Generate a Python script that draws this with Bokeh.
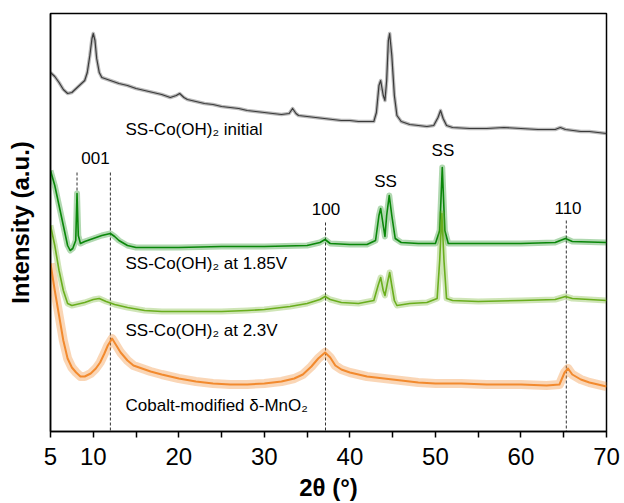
from bokeh.plotting import figure
from bokeh.models import Range1d, FixedTicker, Label
from bokeh.embed import file_html
from bokeh.resources import INLINE

# ---------------- data (2θ in degrees, intensity in arbitrary units) ----------------
x_initial = [5.0, 5.5, 6.0, 6.5, 7.0, 7.5, 8.0, 8.5, 9.0, 9.3, 9.6, 9.85, 10.0, 10.2, 10.4, 10.7, 11.0,
             12, 13, 14, 15, 16, 17, 18, 19, 19.7, 20.1, 20.6, 21, 22, 23, 24, 25, 26, 27, 28, 29, 30,
             31, 32, 32.9, 33.3, 33.7, 34, 35, 36, 37, 38, 39, 40, 41, 42, 42.8, 43.1, 43.4, 43.6,
             43.9, 44.1, 44.3, 44.5, 44.65, 44.9, 45.2, 45.5, 46, 47, 48, 49, 49.8, 50.3, 50.6, 50.9,
             51.3, 52, 54, 56, 58, 60, 62, 64, 64.6, 65.2, 67, 68, 70]
y_initial = [359, 355, 349, 342, 338, 339, 343, 347, 351, 359, 376, 393, 398, 391, 373, 359, 354,
             351, 348, 346, 343, 341, 339, 337, 334, 336, 338, 334, 332, 330, 328, 327, 325, 324, 323,
             321, 320, 319, 318, 317, 318, 323, 318, 316, 315, 314, 313, 312, 311, 311, 310, 310, 310,
             319, 346, 351, 336, 331, 351, 391, 398, 376, 336, 316, 310, 307, 306, 305, 306, 314, 321,
             313, 306, 304, 303, 303, 304, 303, 302, 302, 304, 302, 300, 300, 298]

x_185 = [5.0, 5.5, 6.0, 6.5, 7.0, 7.3, 7.6, 7.95, 8.1, 8.25, 8.5, 9.0, 10, 11, 12, 12.5, 13, 14, 15,
         17, 20, 25, 30, 35, 36.5, 37.1, 37.7, 40, 42, 43.0, 43.4, 43.6, 43.9, 44.1, 44.3, 44.6,
         44.9, 45.3, 46, 48, 50, 50.5, 50.8, 51.1, 51.5, 55, 60, 64, 65.2, 66, 70]
y_185 = [261, 246, 226, 206, 186, 181, 183, 191, 238, 196, 188, 190, 193, 196, 198, 195, 191, 186,
         184, 184, 184, 185, 185, 186, 189, 192, 188, 187, 187, 191, 216, 223, 206, 195, 216, 236,
         216, 193, 189, 188, 188, 201, 264, 201, 188, 188, 188, 189, 193, 190, 189]

x_23 = [5.0, 5.5, 6.0, 6.5, 7.0, 7.5, 8.0, 9.0, 10.0, 10.7, 11.5, 12.5, 14, 16, 18, 20, 22, 25, 28,
        30, 33, 35, 36.5, 37.1, 37.7, 39, 41, 42.8, 43.3, 43.6, 43.9, 44.1, 44.4, 44.65, 44.9, 45.2,
        45.5, 47, 49, 50.2, 50.5, 50.75, 51.0, 51.3, 52, 55, 60, 64, 65.2, 66, 70]
y_23 = [206, 186, 161, 141, 128, 126, 127, 129, 132, 133, 130, 127, 124, 121, 120, 120, 120, 120,
        121, 122, 125, 128, 132, 135, 132, 129, 128, 131, 146, 154, 141, 136, 149, 159, 146, 131,
        126, 128, 129, 133, 171, 218, 171, 133, 131, 130, 131, 132, 135, 133, 131]

x_mno2 = [5.0, 5.5, 6.0, 6.5, 7.0, 7.5, 8.0, 8.5, 9.0, 9.7, 10.3, 10.8, 11.3, 11.7, 12.2, 12.7, 13.2,
          14, 14.7, 15.7, 16.7, 18, 20, 22, 24, 26, 28, 30, 32, 33.5, 34.5, 35.5, 36.3, 37.1, 37.7,
          38.3, 39, 40, 42, 44, 46, 48, 50, 53, 56, 60, 63, 64.5, 65.1, 65.5, 66.0, 67, 68, 70]
y_mno2 = [168, 141, 116, 91, 73, 64, 59, 55, 55, 58, 63, 69, 78, 86, 93, 86, 79, 71, 66, 63, 60,
          57, 53, 50, 48, 47, 47, 48, 50, 53, 57, 65, 73, 79, 74, 66, 62, 59, 55, 53, 51, 49, 48,
          48, 47, 47, 46, 47, 59, 63, 57, 52, 49, 45]

# reflection markers (2θ, top, bottom of dashed guide)
ref_x = [8.1, 12.0, 37.15, 65.3]
ref_top = [259, 259, 209, 211]
ref_bottom = [241, 0, 0, 0]

tick_values = [5, 10, 15, 20, 25, 30, 35, 40, 45, 50, 55, 60, 65, 70]
tick_labels = ["5", "10", "", "20", "", "30", "", "40", "", "50", "", "60", "", "70"]

series_names = ["SS-Co(OH)\u2082 initial", "SS-Co(OH)\u2082 at 1.85V",
                "SS-Co(OH)\u2082 at 2.3V", "Cobalt-modified \u03b4-MnO\u2082"]
peak_names = ["001", "100", "SS", "SS", "110"]

# ---------------- figure ----------------
FONT = "Liberation Sans"
p = figure(width=624, height=503, output_backend="svg", toolbar_location=None,
           x_range=Range1d(5, 70), y_range=Range1d(0, 418),
           min_border_left=50, min_border_right=18, min_border_top=13, min_border_bottom=72)
p.grid.visible = False
p.outline_line_color = "black"
p.outline_line_width = 1.5
p.background_fill_color = "white"
p.border_fill_color = "white"

xa = p.xaxis[0]
xa.ticker = FixedTicker(ticks=tick_values, minor_ticks=[])
xa.major_label_overrides = {t: l for t, l in zip(tick_values, tick_labels)}
xa.major_tick_out = 6
xa.major_tick_in = 0
xa.major_tick_line_width = 1.5
xa.axis_line_width = 1.5
xa.major_label_text_font = FONT
xa.major_label_text_font_size = "24px"
xa.major_label_text_color = "black"
xa.major_label_standoff = 10
xa.axis_label = "2\u03b8 (\u00b0)"
xa.axis_label_text_font = FONT
xa.axis_label_text_font_size = "24px"
xa.axis_label_text_font_style = "bold"
xa.axis_label_text_color = "black"
xa.axis_label_standoff = 6

ya = p.yaxis[0]
ya.ticker = FixedTicker(ticks=[], minor_ticks=[])
ya.major_tick_out = 0
ya.major_tick_in = 0
ya.major_label_text_font_size = "0px"
ya.axis_line_width = 1.5
ya.axis_label = "Intensity (a.u.)"
ya.axis_label_text_font = FONT
ya.axis_label_text_font_size = "24px"
ya.axis_label_text_font_style = "bold"
ya.axis_label_text_color = "black"
ya.axis_label_standoff = 17

# dashed guides
p.segment(x0=ref_x, y0=ref_top, x1=ref_x, y1=ref_bottom, line_color="#333333",
          line_width=1, line_dash="3 2")

# traces: soft halo (noise band) + core line
traces = [
    (x_initial, y_initial, "#3a3a3a", 3.5, 1.2, 0.35),
    (x_185, y_185, "#0a870a", 6, 1.6, 0.32),
    (x_23, y_23, "#6aae1e", 6, 1.6, 0.32),
    (x_mno2, y_mno2, "#f28a2e", 9, 2.0, 0.35),
]
for xs, ys, col, wh, wc, ah in traces:
    p.line(xs, ys, line_color=col, line_width=wh, line_alpha=ah, line_join="round")
    p.line(xs, ys, line_color=col, line_width=wc, line_join="round")

# series labels
name_x = [13.77, 13.77, 13.77, 13.77]
name_y = [302, 168, 101, 26]
for t, xx, yy in zip(series_names, name_x, name_y):
    p.add_layout(Label(x=xx, y=yy, text=t, text_font=FONT, text_font_size="17px",
                       text_color="black", text_baseline="middle", text_align="left"))

peak_x = [10.26, 37.2, 44.16, 50.88, 65.5]
peak_y = [274, 223, 250, 281, 224]
for t, xx, yy in zip(peak_names, peak_x, peak_y):
    p.add_layout(Label(x=xx, y=yy, text=t, text_font=FONT, text_font_size="17px",
                       text_color="black", text_baseline="middle", text_align="center"))

open("out.html", "w").write(file_html(p, INLINE))
